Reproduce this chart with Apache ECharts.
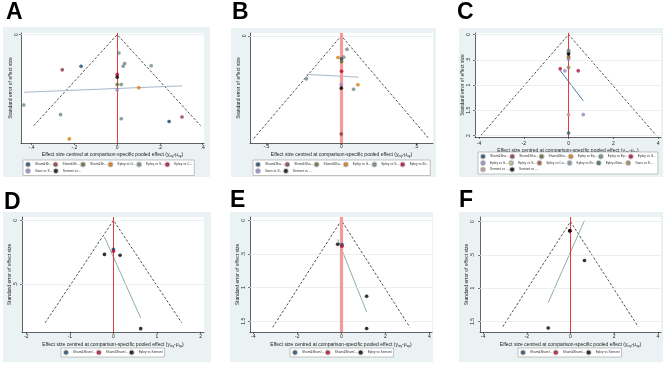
<!DOCTYPE html>
<html>
<head>
<meta charset="utf-8">
<script src="https://cdn.jsdelivr.net/npm/echarts@6/dist/echarts.min.js"></script>
<style>html,body{margin:0;padding:0;background:#fff}#chart{width:669px;height:365px}</style>
</head>
<body>
<div id="chart"></div>
<script>
// Stata s2color palette
const palette = {
    navy: '#1a476f', maroon: '#90353b', forest: '#55752f', orange: '#e37e00', teal: '#6e8e84',
    cranberry: '#c10534', lavender: '#938dd2', khaki: '#cac27e', sienna: '#a0522d', emidblue: '#7b92a8',
    emerald: '#2d6d66', brown: '#9c8847', erose: '#bfa19c', black: '#000000'
};

// A
const aNames = ['Sham&Sham/Ex vs Epley', 'Sham&Sham/Ex vs Semont', 'Sham&Sham/Ex vs Control', 'Epley vs Gans',
    'Epley vs Semont', 'Epley vs Control', 'Gans vs Semont', 'Semont vs Control'];
const aColors = ['navy', 'maroon', 'forest', 'orange', 'teal', 'cranberry', 'lavender', 'black'];
const aX = [-0.437, -0.265, -0.224, -0.257, -0.169, 0.008, 0.035, 0.028, 0.159, 0, 0, 0, 0.019, 0, 0.101, 0.019, 0.243, 0.303];
const aY = [0.154, 0.175, 0.228, 0.077, 0.069, 0.040, 0.063, 0.069, 0.068, 0.087, 0.093, 0.109, 0.109, 0.121, 0.116, 0.184, 0.190, 0.180];
const aGroup = [4, 4, 3, 1, 0, 4, 4, 4, 4, 5, 7, 2, 4, 6, 3, 4, 0, 1];
const aFitX = [-0.437, 0.304], aFitY = [0.126, 0.112];
const aSeMax = 0.199;
const aXTicks = [-0.4, -0.2, 0, 0.2, 0.4], aYTicks = [0];

// B
const bNames = ['Sham&Sham/Ex vs Epley', 'Sham&Sham/Ex vs Gans', 'Sham&Sham/Ex vs Semont', 'Epley vs Gans',
    'Epley vs Semont', 'Epley vs Brandt', 'Gans vs Semont', 'Semont vs Brandt'];
const bColors = ['navy', 'maroon', 'forest', 'orange', 'teal', 'cranberry', 'lavender', 'black'];
const bX = [0.038, 0.002, 0.016, -0.022, 0.002, 0.002, -0.233, 0, 0, 0.111, 0.082, 0];
const bY = [0.039, 0.067, 0.062, 0.063, 0.075, 0.103, 0.125, 0.142, 0.152, 0.142, 0.155, 0.285];
const bGroup = [4, 0, 4, 3, 2, 5, 4, 6, 7, 3, 4, 1];
const bFitX = [-0.233, 0.116], bFitY = [0.112, 0.120];
const bSeMax = 0.298;
const bXTicks = [-0.5, 0, 0.5], bYTicks = [0];

// C
const cNames = ['Sham&Sham/Ex vs Epley', 'Sham&Sham/Ex vs Semont', 'Sham&Sham/Ex vs Liberatory', 'Epley vs Epley+Betahistine',
    'Epley vs Epley+Mastoid Vibration', 'Epley vs Gans', 'Epley vs Semont', 'Epley vs Semont+Betahistine', 'Epley vs Control',
    'Epley vs Brandt', 'Epley+Betahistine vs Semont+Betahistine', 'Gans vs Semont', 'Semont vs Semont+Betahistine', 'Semont vs Control'];
const cColors = ['navy', 'maroon', 'forest', 'orange', 'teal', 'cranberry', 'lavender', 'khaki', 'sienna',
    'emidblue', 'emerald', 'brown', 'erose', 'black'];
const cX = [0, 0, 0, 0, 0, 0, 0, 0, -0.373, -0.164, 0.433, 0, 0.657, 0];
const cY = [0.313, 0.34, 0.36, 0.387, 0.44, 0.46, 0.487, 0.653, 0.68, 0.72, 0.72, 1.587, 1.587, 1.953];
const cGroup = [4, 9, 2, 13, 8, 11, 6, 11, 5, 6, 5, 12, 6, 10];
const cFitX = [-0.373, 0.657], cFitY = [0.713, 1.313];
const cSeMax = 2;
const cXTicks = [-4, -2, 0, 2, 4], cYTicks = [0, 0.5, 1, 1.5, 2];

// D
const dNames = ['Sham&Sham/Ex vs Epley', 'Sham&Sham/Ex vs Semont', 'Epley vs Semont'];
const dColors = ['navy', 'cranberry', 'black'];
const dX = [0, 0, -0.206, 0.153, 0.626];
const dY = [0.227, 0.242, 0.266, 0.273, 0.846];
const dGroup = [0, 1, 2, 2, 2];
const dFitX = [-0.206, 0.626], dFitY = [0.13, 0.763];
const dSeMax = 0.80;
const dXTicks = [-2, -1, 0, 1, 2], dYTicks = [0, 0.5];

// E
const eNames = dNames;
const eColors = dColors;
const eX = [-0.167, 0.03, 0.03, 1.15, 1.15];
const eY = [0.356, 0.361, 0.386, 1.129, 1.609];
const eGroup = [2, 0, 1, 2, 2];
const eFitX = [-0.167, 1.15], eFitY = [0.282, 1.361];
const eSeMax = 1.59;
const eXTicks = [-4, -2, 0, 2, 4], eYTicks = [0, 0.5, 1, 1.5];

// F
const fNames = dNames;
const fColors = dColors;
const fX = [-0.03, -0.03, -0.03, 0.64, -1.02];
const fY = [0.14, 0.135, 0.136, 0.583, 1.60];
const fGroup = [0, 1, 2, 2, 2];
const fFitX = [-1.02, 0.64], fFitY = [1.218, -0.02];
const fSeMax = 1.58;
const fXTicks = [-4, -2, 0, 2, 4], fYTicks = [0, 0.5, 1, 1.5];

const panels = [
    { key: 'A', names: aNames, colors: aColors, x: aX, y: aY, group: aGroup, fitX: aFitX, fitY: aFitY, se: aSeMax,
      xTicks: aXTicks, yTicks: aYTicks, box: [3, 27, 207, 150], grid: [21, 33, 183, 110],
      xRange: [-0.45, 0.406], yRange: [-0.0036, 0.237], fit: '#a9b9c8', wide: false,
      xd: 5, xt: 11, yl: 4.3, yt: 9, legend: [23, 160, 178, 20], letter: [6, 1] },
    { key: 'B', names: bNames, colors: bColors, x: bX, y: bY, group: bGroup, fitX: bFitX, fitY: bFitY, se: bSeMax,
      xTicks: bXTicks, yTicks: bYTicks, box: [231, 28, 205, 149], grid: [250, 33, 183, 110],
      xRange: [-0.609, 0.612], yRange: [-0.008, 0.311], fit: '#a9b9c8', wide: true,
      xd: 4, xt: 11.3, yl: 5.3, yt: 9.7, legend: [253, 160, 181, 20.5], letter: [232, 1] },
    { key: 'C', names: cNames, colors: cColors, x: cX, y: cY, group: cGroup, fitX: cFitX, fitY: cFitY, se: cSeMax,
      xTicks: cXTicks, yTicks: cYTicks, box: [459, 28, 204, 149], grid: [475, 33, 186, 104],
      xRange: [-4.18, 4.13], yRange: [-0.03, 2.03], fit: '#4b77a8', wide: false,
      xd: 6.7, xt: 12.7, yl: 6, yt: 8.7, legend: [478, 152, 184, 21], letter: [457, 1] },
    { key: 'D', names: dNames, colors: dColors, x: dX, y: dY, group: dGroup, fitX: dFitX, fitY: dFitY, se: dSeMax,
      xTicks: dXTicks, yTicks: dYTicks, box: [3, 212, 208, 150], grid: [22, 217, 182, 115],
      xRange: [-2.1, 2.08], yRange: [-0.026, 0.872], fit: '#8faea3', wide: false,
      xd: 5, xt: 11.7, yl: 6, yt: 10, legend: [61, 348, null, 25], letter: [4, 191] },
    { key: 'E', names: eNames, colors: eColors, x: eX, y: eY, group: eGroup, fitX: eFitX, fitY: eFitY, se: eSeMax,
      xTicks: eXTicks, yTicks: eYTicks, box: [230, 212, 203, 150], grid: [250, 217, 182, 115],
      xRange: [-4.15, 4.12], yRange: [-0.05, 1.66], fit: '#8faea3', wide: true,
      xd: 5, xt: 12.3, yl: 6.3, yt: 12, legend: [290, 348, null, 25], letter: [230, 189] },
    { key: 'F', names: fNames, colors: fColors, x: fX, y: fY, group: fGroup, fitX: fFitX, fitY: fFitY, se: fSeMax,
      xTicks: fXTicks, yTicks: fYTicks, box: [459, 212, 204, 150], grid: [480, 217, 181, 115],
      xRange: [-4.14, 4.14], yRange: [-0.071, 1.66], fit: '#8faea3', wide: false,
      xd: 5, xt: 12.3, yl: 7.3, yt: 12.3, legend: [518, 348, null, 25], letter: [459, 189] }
];

// Stata-style tick labels: .5, -.2, 1.5
const stataNum = (v) => String(+v.toFixed(3)).replace(/^(-?)0\./, '$1.');
const FONT = 'Liberation Sans';

const grids = [], xAxes = [], yAxes = [], series = [], legends = [], graphics = [];

panels.forEach((p, i) => {
    graphics.push({ type: 'rect', z: -10, shape: { x: p.box[0], y: p.box[1], width: p.box[2], height: p.box[3] },
        style: { fill: '#eaf2f3' } });
    graphics.push({ type: 'text', left: p.letter[0], top: p.letter[1], z: 10,
        style: { text: p.key, font: 'bold 23px "Liberation Sans"', fill: '#000' } });

    grids.push({ left: p.grid[0], top: p.grid[1], width: p.grid[2], height: p.grid[3],
        show: true, backgroundColor: '#fff', borderWidth: 0 });

    xAxes.push({
        type: 'value', gridIndex: i, min: p.xRange[0], max: p.xRange[1],
        axisLine: { onZero: false, lineStyle: { color: '#222', width: 0.7 } },
        axisTick: { customValues: p.xTicks, length: 2, lineStyle: { color: '#222', width: 0.6 } },
        axisLabel: { customValues: p.xTicks, formatter: stataNum, fontSize: 5, color: '#222',
            fontFamily: FONT, margin: p.xd - 2.5 },
        splitLine: { show: false },
        name: '{t|Effect size centred at comparison-specific pooled effect (y}{s|ixy}{t|-μ}{s|xy}{t|)}',
        nameLocation: 'middle', nameGap: p.xt - 2.5,
        nameTextStyle: { fontFamily: FONT, rich: {
            t: { fontSize: 5, color: '#222', fontFamily: FONT, lineHeight: 6 },
            s: { fontSize: 3.4, color: '#222', fontFamily: FONT, lineHeight: 6, verticalAlign: 'bottom' } } }
    });

    yAxes.push({
        type: 'value', gridIndex: i, inverse: true, min: p.yRange[0], max: p.yRange[1],
        axisLine: { onZero: false, lineStyle: { color: '#222', width: 0.7 } },
        axisTick: { customValues: p.yTicks, length: 2, lineStyle: { color: '#222', width: 0.6 } },
        axisLabel: { customValues: p.yTicks, formatter: stataNum, fontSize: 5, color: '#222',
            fontFamily: FONT, rotate: 90, margin: p.yl - 2.5 },
        splitLine: { show: false },
        name: 'Standard error of effect size', nameLocation: 'middle', nameGap: p.yt - 2.5,
        nameTextStyle: { fontSize: 5, color: '#222', fontFamily: FONT }
    });

    // 浅色网格线（y 主刻度）
    series.push({ type: 'line', xAxisIndex: i, yAxisIndex: i, data: [], z: 1, silent: true,
        markLine: { silent: true, symbol: 'none', label: { show: false }, animation: false,
            lineStyle: { color: '#e3eced', width: 0.8, type: 'solid' },
            data: p.yTicks.map((v) => ({ yAxis: v })) } });

    // 伪置信区间漏斗
    series.push({ type: 'line', xAxisIndex: i, yAxisIndex: i, symbol: 'none', silent: true, z: 3,
        data: [[-1.96 * p.se, p.se], [0, 0], [1.96 * p.se, p.se]],
        lineStyle: { color: '#222', width: 0.8, type: [2.5, 1.8] } });

    // 零效应线
    series.push({ type: 'line', xAxisIndex: i, yAxisIndex: i, data: [], z: 3, silent: true,
        markLine: { silent: true, symbol: 'none', label: { show: false }, animation: false,
            lineStyle: p.wide ? { color: '#f59a9a', width: 3.2, type: 'solid' } : { color: '#e8232b', width: 0.9, type: 'solid' },
            data: [{ xAxis: 0 }] } });

    // 回归线
    series.push({ type: 'line', xAxisIndex: i, yAxisIndex: i, symbol: 'none', silent: true, z: 4,
        data: p.fitX.map((v, k) => [v, p.fitY[k]]),
        lineStyle: { color: p.fit, width: 1 } });

    p.names.forEach((n, g) => {
        series.push({
            name: p.key + '|' + n, type: 'scatter', xAxisIndex: i, yAxisIndex: i, z: 5,
            symbol: 'circle', symbolSize: 3.6,
            itemStyle: { color: palette[p.colors[g]], borderColor: 'rgba(0,0,0,0.25)', borderWidth: 0.3 },
            data: p.x.map((v, k) => [v, p.y[k], p.group[k]]).filter((d) => d[2] === g).map((d) => [d[0], d[1]])
        });
    });

    const lg = {
        data: p.names.map((n) => p.key + '|' + n), formatter: (n) => n.split('|')[1],
        left: p.legend[0], top: p.legend[1], orient: 'horizontal', selectedMode: false,
        icon: 'circle', itemWidth: 4, itemHeight: 4, itemGap: 0.5, padding: [1.5, 2],
        backgroundColor: '#fff', borderColor: '#8a8a8a', borderWidth: 0.5,
        textStyle: { fontSize: 3.2, color: '#333', fontFamily: FONT, width: p.legend[3], overflow: 'truncate' }
    };
    if (p.legend[2]) lg.width = p.legend[2];
    legends.push(lg);
});

const chart = echarts.init(document.getElementById('chart'));
chart.setOption({
    animation: false,
    backgroundColor: '#fff',
    grid: grids, xAxis: xAxes, yAxis: yAxes, series: series, legend: legends, graphic: graphics
});
</script>
</body>
</html>
